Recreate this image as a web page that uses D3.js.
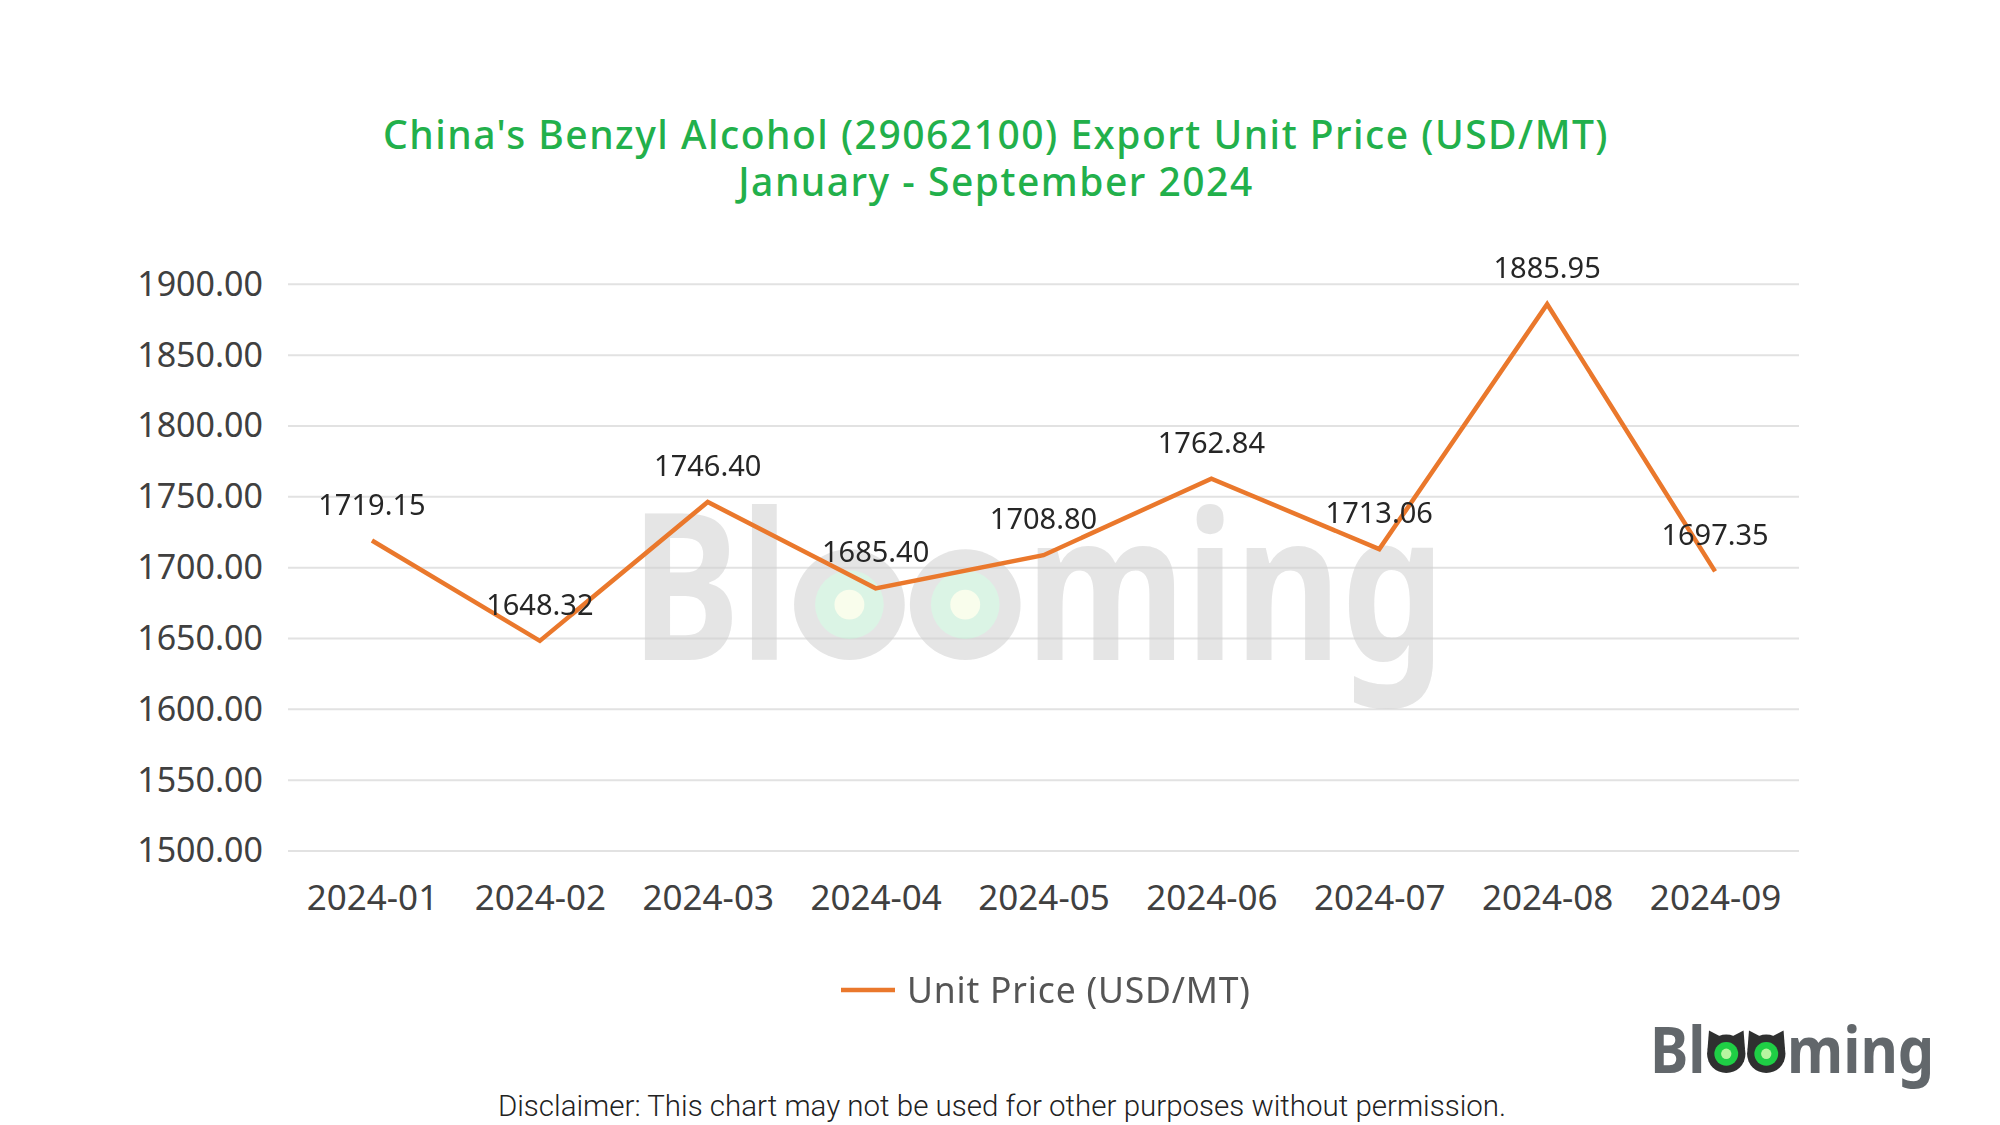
<!DOCTYPE html>
<html>
<head>
<meta charset="utf-8">
<script src="https://cdn.jsdelivr.net/npm/d3@7"></script>
<style>
  html, body { margin: 0; padding: 0; background: #fff; }
  svg { display: block; }
</style>
</head>
<body>
<svg id="chart" width="2000" height="1125"></svg>
<script>
// ---- data ----
const categories = ["2024-01","2024-02","2024-03","2024-04","2024-05","2024-06","2024-07","2024-08","2024-09"];
const unitPrice = [1719.15, 1648.32, 1746.40, 1685.40, 1708.80, 1762.84, 1713.06, 1885.95, 1697.35];
const yTicks = [1500, 1550, 1600, 1650, 1700, 1750, 1800, 1850, 1900];
const titleLines = ["China's Benzyl Alcohol (29062100) Export Unit Price (USD/MT)", "January - September 2024"];
const seriesName = "Unit Price (USD/MT)";
const disclaimer = "Disclaimer: This chart may not be used for other purposes without permission.";

const svg = d3.select("#chart");
const W = 2000, H = 1125;
svg.append("rect").attr("width", W).attr("height", H).attr("fill", "#fff");

const plot = { left: 288, right: 1799, top: 284.3, bottom: 851 };
const x = d3.scalePoint().domain(categories).range([plot.left, plot.right]).padding(0.5);
const y = d3.scaleLinear().domain([1500, 1900]).range([plot.bottom, plot.top]);

const font = "'Noto Sans', 'Lato', sans-serif";
const orange = "#EA782C";

// title
svg.append("g").selectAll("text").data(titleLines).join("text")
  .attr("x", 996).attr("y", (d, i) => 149 + i * 47)
  .attr("text-anchor", "middle")
  .attr("font-family", font).attr("font-weight", 500).attr("font-size", 39)
  .attr("letter-spacing", 1.5)
  .attr("fill", "#22B04B")
  .text(d => d);

// gridlines
const grid = svg.append("g");
grid.selectAll("line").data(yTicks).join("line")
  .attr("x1", plot.left).attr("x2", plot.right)
  .attr("y1", d => y(d)).attr("y2", d => y(d))
  .attr("stroke", "#e2e2e2").attr("stroke-width", 2);

// y axis
const yAxis = svg.append("g").attr("transform", `translate(${plot.left},0)`)
  .call(d3.axisLeft(y).tickValues(yTicks).tickFormat(d3.format(".2f")).tickSize(0).tickPadding(25));
yAxis.select(".domain").remove();
yAxis.selectAll("text").attr("font-family", font).attr("font-size", 34).attr("fill", "#404040");

// x axis
const xAxis = svg.append("g").attr("transform", `translate(0,${plot.bottom})`)
  .call(d3.axisBottom(x).tickSize(0).tickPadding(34));
xAxis.select(".domain").remove();
xAxis.selectAll("text").attr("font-family", font).attr("font-size", 35).attr("fill", "#404040");

// logo drawing (watermark + corner)
function drawLogo(g, opts) {
  const { x0, baseline, size, sx, rf, textFill, ringFill, eyeFill, eyeCenter, opacity, ears } = opts;
  const grp = g.append("g").attr("opacity", opacity);
  const mk = (str, xp) => grp.append("text")
    .attr("transform", `translate(${xp},${baseline}) scale(${sx},1)`)
    .attr("font-family", "'Noto Sans', sans-serif").attr("font-weight", 700)
    .attr("font-size", size).attr("fill", textFill).text(str);
  const t1 = mk("Bl", x0);
  const w1 = t1.node().getComputedTextLength() * sx;
  const r = size * rf;
  const gap = size * 0.025;
  const cy = baseline - r;
  const c1 = x0 + w1 + gap + r;
  const c2 = c1 + 2 * r + gap;
  [c1, c2].forEach(cx => {
    if (ears) {
      grp.append("path")
        .attr("d", `M${cx - r * 0.98},${cy - r * 0.2} L${cx - r * 0.9},${cy - r * 1.22} L${cx - r * 0.3},${cy - r * 0.9} Z`)
        .attr("fill", ringFill);
      grp.append("path")
        .attr("d", `M${cx + r * 0.98},${cy - r * 0.2} L${cx + r * 0.9},${cy - r * 1.22} L${cx + r * 0.3},${cy - r * 0.9} Z`)
        .attr("fill", ringFill);
    }
    grp.append("circle").attr("cx", cx).attr("cy", cy).attr("r", r).attr("fill", ringFill);
    grp.append("circle").attr("cx", cx).attr("cy", cy).attr("r", r * 0.62).attr("fill", eyeFill);
    grp.append("circle").attr("cx", cx).attr("cy", cy).attr("r", r * 0.27).attr("fill", eyeCenter);
  });
  mk("ming", c2 + r + gap);
}

drawLogo(svg, { x0: 631, baseline: 660, size: 205, sx: 0.8, rf: 0.27,
  textFill: "#d0d0d0", ringFill: "#d0d0d0", eyeFill: "#bdebd0", eyeCenter: "#f4fbdc",
  opacity: 0.55, ears: false });

// line
const line = d3.line().x((d, i) => x(categories[i])).y(d => y(d));
svg.append("path").datum(unitPrice)
  .attr("d", line).attr("fill", "none")
  .attr("stroke", orange).attr("stroke-width", 4.5).attr("stroke-linejoin", "miter");

// data labels
svg.append("g").selectAll("text").data(unitPrice).join("text")
  .attr("x", (d, i) => x(categories[i]))
  .attr("y", d => y(d) - 26)
  .attr("text-anchor", "middle")
  .attr("font-family", font).attr("font-size", 29).attr("fill", "#262626")
  .text(d => d3.format(".2f")(d));

// legend
const lg = svg.append("g");
lg.append("line").attr("x1", 841).attr("x2", 895).attr("y1", 990).attr("y2", 990)
  .attr("stroke", orange).attr("stroke-width", 4.5);
lg.append("text").attr("x", 907).attr("y", 1003)
  .attr("font-family", font).attr("font-size", 35.5).attr("letter-spacing", 0.8).attr("fill", "#555")
  .text(seriesName);

// corner logo
drawLogo(svg, { x0: 1650, baseline: 1073, size: 64, sx: 0.9, rf: 0.3,
  textFill: "#62676b", ringFill: "#2f3030", eyeFill: "#1fcf45", eyeCenter: "#b8f5a0",
  opacity: 1, ears: true });

// disclaimer
svg.append("text").attr("x", 1002).attr("y", 1116)
  .attr("text-anchor", "middle")
  .attr("font-family", "Roboto, sans-serif").attr("font-weight", 300).attr("font-size", 29.5)
  .attr("fill", "#222").text(disclaimer);
</script>
</body>
</html>
